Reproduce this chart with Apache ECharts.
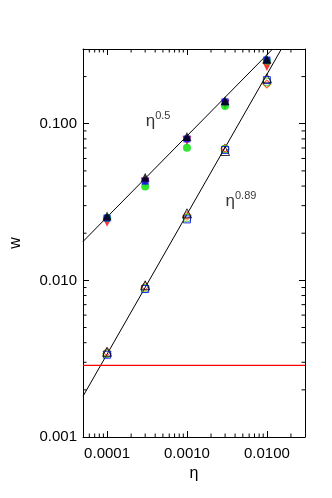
<!DOCTYPE html>
<html><head><meta charset="utf-8">
<script src="https://cdn.jsdelivr.net/npm/echarts@6/dist/echarts.min.js"></script>
<style>html,body{margin:0;padding:0;background:#fff}#c{width:332px;height:498px}</style>
</head><body><div id="c"></div>
<script>
// ---- data ----
const eta = [0.0001, 0.0003, 0.001, 0.003, 0.01];
// filled markers (w ~ eta^0.5)
const redFilled   = [0.0235, 0.0425, 0.078, 0.133, 0.232];
const greenFilled = [0.0250, 0.0397, 0.0703, 0.130, 0.252];
const blueFilled  = [0.0250, 0.0430, 0.080, 0.138, 0.255];
const blackFilled = [0.0258, 0.0455, 0.083, 0.140, 0.258];
// open markers (w ~ eta^0.89)
const blueOpen   = [0.00335, 0.0088, 0.0245, 0.068, 0.190];
const greenOpen  = [0.0034, 0.0089, 0.0250, 0.069, 0.185];
const redOpen    = [0.0035, 0.0092, 0.0260, 0.070, 0.180];
const orangeOpen = [0.0034, 0.0090, 0.0255, 0.069, 0.178];
const blackOpen  = [0.0035, 0.0093, 0.0268, 0.067, 0.195];
// fit lines (endpoints)
const fit05  = [[0.00005, 0.0177], [0.0118, 0.3]];
const fit089 = [[0.00005, 0.00182], [0.0152, 0.3]];
const redLevel = 0.00287;
// annotations
const notes = [
  {pos: [0.000435, 0.103], exp: '0.5'},
  {pos: [0.00474, 0.0319], exp: '0.89'}
];
// axis ranges and ticks
const xMin = 0.00005, xMax = 0.03, yMin = 0.001, yMax = 0.3;
const xMinorTicks = [6e-5,7e-5,8e-5,9e-5,2e-4,3e-4,4e-4,5e-4,6e-4,7e-4,8e-4,9e-4,
  2e-3,3e-3,4e-3,5e-3,6e-3,7e-3,8e-3,9e-3,2e-2];
const yMinorTicks = [2e-3,3e-3,4e-3,5e-3,6e-3,7e-3,8e-3,9e-3,
  2e-2,3e-2,4e-2,5e-2,6e-2,7e-2,8e-2,9e-2,2e-1];

const FONT = 'Liberation Sans, Arial, Helvetica, sans-serif';
const pairs = arr => eta.map((x, i) => [x, arr[i]]);
const isPow10 = v => Math.abs(Math.log10(v) - Math.round(Math.log10(v))) < 1e-6;

function scatter(name, arr, color, symbol, filled, rotate) {
  return {
    name, type: 'scatter', data: pairs(arr), symbol,
    symbolSize: symbol === 'rect' ? 7 : (symbol === 'triangle' ? 9 : 8),
    symbolRotate: rotate || 0,
    itemStyle: filled ? {color} : {color: 'rgba(0,0,0,0)', borderColor: color, borderWidth: 1},
    z: 5
  };
}
const minorLen = 3.5;
function xMinorRender(params, api) {
  const cs = params.coordSys;
  const p = api.coord([api.value(0), yMin]);
  const b = cs.y + cs.height, t = cs.y;
  return {type: 'group', children: [
    {type: 'line', shape: {x1: p[0], y1: b, x2: p[0], y2: b - minorLen}, style: {stroke: '#000', lineWidth: 1}},
    {type: 'line', shape: {x1: p[0], y1: t, x2: p[0], y2: t + minorLen}, style: {stroke: '#000', lineWidth: 1}}
  ]};
}
function yMinorRender(params, api) {
  const cs = params.coordSys;
  const p = api.coord([xMin, api.value(1)]);
  const l = cs.x, r = cs.x + cs.width;
  return {type: 'group', children: [
    {type: 'line', shape: {x1: l, y1: p[1], x2: l + minorLen, y2: p[1]}, style: {stroke: '#000', lineWidth: 1}},
    {type: 'line', shape: {x1: r, y1: p[1], x2: r - minorLen, y2: p[1]}, style: {stroke: '#000', lineWidth: 1}}
  ]};
}

const axisLine = {show: true, lineStyle: {color: '#000', width: 1}};
const axisTick = {show: true, inside: true, length: 6, lineStyle: {color: '#000'}};

const option = {
  animation: false,
  backgroundColor: '#fff',
  grid: {left: 83, right: 27, top: 49, bottom: 61, containLabel: false},
  xAxis: [
    {type: 'log', logBase: 10, min: xMin, max: xMax, position: 'bottom',
     axisLine, axisTick, splitLine: {show: false},
     axisLabel: {fontFamily: FONT, fontSize: 15, color: '#000', margin: 9,
       formatter: v => isPow10(v) ? v.toFixed(4) : ''},
     name: 'η', nameLocation: 'middle', nameGap: 28,
     nameTextStyle: {fontFamily: FONT, fontSize: 16, color: '#000'}},
    {type: 'log', logBase: 10, min: xMin, max: xMax, position: 'top',
     axisLine, axisTick, splitLine: {show: false}, axisLabel: {show: false}}
  ],
  yAxis: [
    {type: 'log', logBase: 10, min: yMin, max: yMax, position: 'left',
     axisLine, axisTick, splitLine: {show: false},
     axisLabel: {fontFamily: FONT, fontSize: 15, color: '#000', margin: 6,
       formatter: v => isPow10(v) ? v.toFixed(3) : ''},
     name: 'w', nameLocation: 'middle', nameGap: 59, nameRotate: 90,
     nameTextStyle: {fontFamily: FONT, fontSize: 16, color: '#000'}},
    {type: 'log', logBase: 10, min: yMin, max: yMax, position: 'right',
     axisLine, axisTick, splitLine: {show: false}, axisLabel: {show: false}}
  ],
  series: [
    {type: 'custom', renderItem: xMinorRender, data: xMinorTicks.map(v => [v, yMin]), silent: true, z: 1, clip: false},
    {type: 'custom', renderItem: yMinorRender, data: yMinorTicks.map(v => [xMin, v]), silent: true, z: 1, clip: false},
    {type: 'line', data: fit05, symbol: 'none', lineStyle: {color: '#000', width: 1}, z: 3, silent: true},
    {type: 'line', data: fit089, symbol: 'none', lineStyle: {color: '#000', width: 1}, z: 3, silent: true},
    {type: 'line', data: [[xMin, redLevel], [xMax, redLevel]], symbol: 'none', lineStyle: {color: '#ff0000', width: 1.3}, z: 3, silent: true},
    scatter('red filled', redFilled, '#ff0000', 'triangle', true, 180),
    scatter('green filled', greenFilled, '#00dd00', 'circle', true),
    scatter('blue filled', blueFilled, '#0000ff', 'rect', true),
    scatter('black filled', blackFilled, '#000000', 'triangle', true),
    scatter('orange open', orangeOpen, '#ff9900', 'diamond', false),
    scatter('red open', redOpen, '#ff0000', 'diamond', false),
    scatter('green open', greenOpen, '#00cc00', 'circle', false),
    scatter('blue open', blueOpen, '#0000ff', 'rect', false),
    scatter('black open', blackOpen, '#000000', 'triangle', false),
    {type: 'scatter', symbolSize: 0, silent: true, z: 6,
     data: notes.map(n => ({value: n.pos, exp: n.exp})),
     label: {show: true, position: 'inside',
       formatter: p => '{b|η}{s|' + p.data.exp + '}',
       rich: {b: {fontFamily: FONT, fontSize: 17, color: '#000', lineHeight: 22},
              s: {fontFamily: FONT, fontSize: 11, color: '#000', verticalAlign: 'top', lineHeight: 22}}}}
  ]
};
const chart = echarts.init(document.getElementById('c'), null, {renderer: 'canvas'});
chart.setOption(option);
</script>
</body></html>
